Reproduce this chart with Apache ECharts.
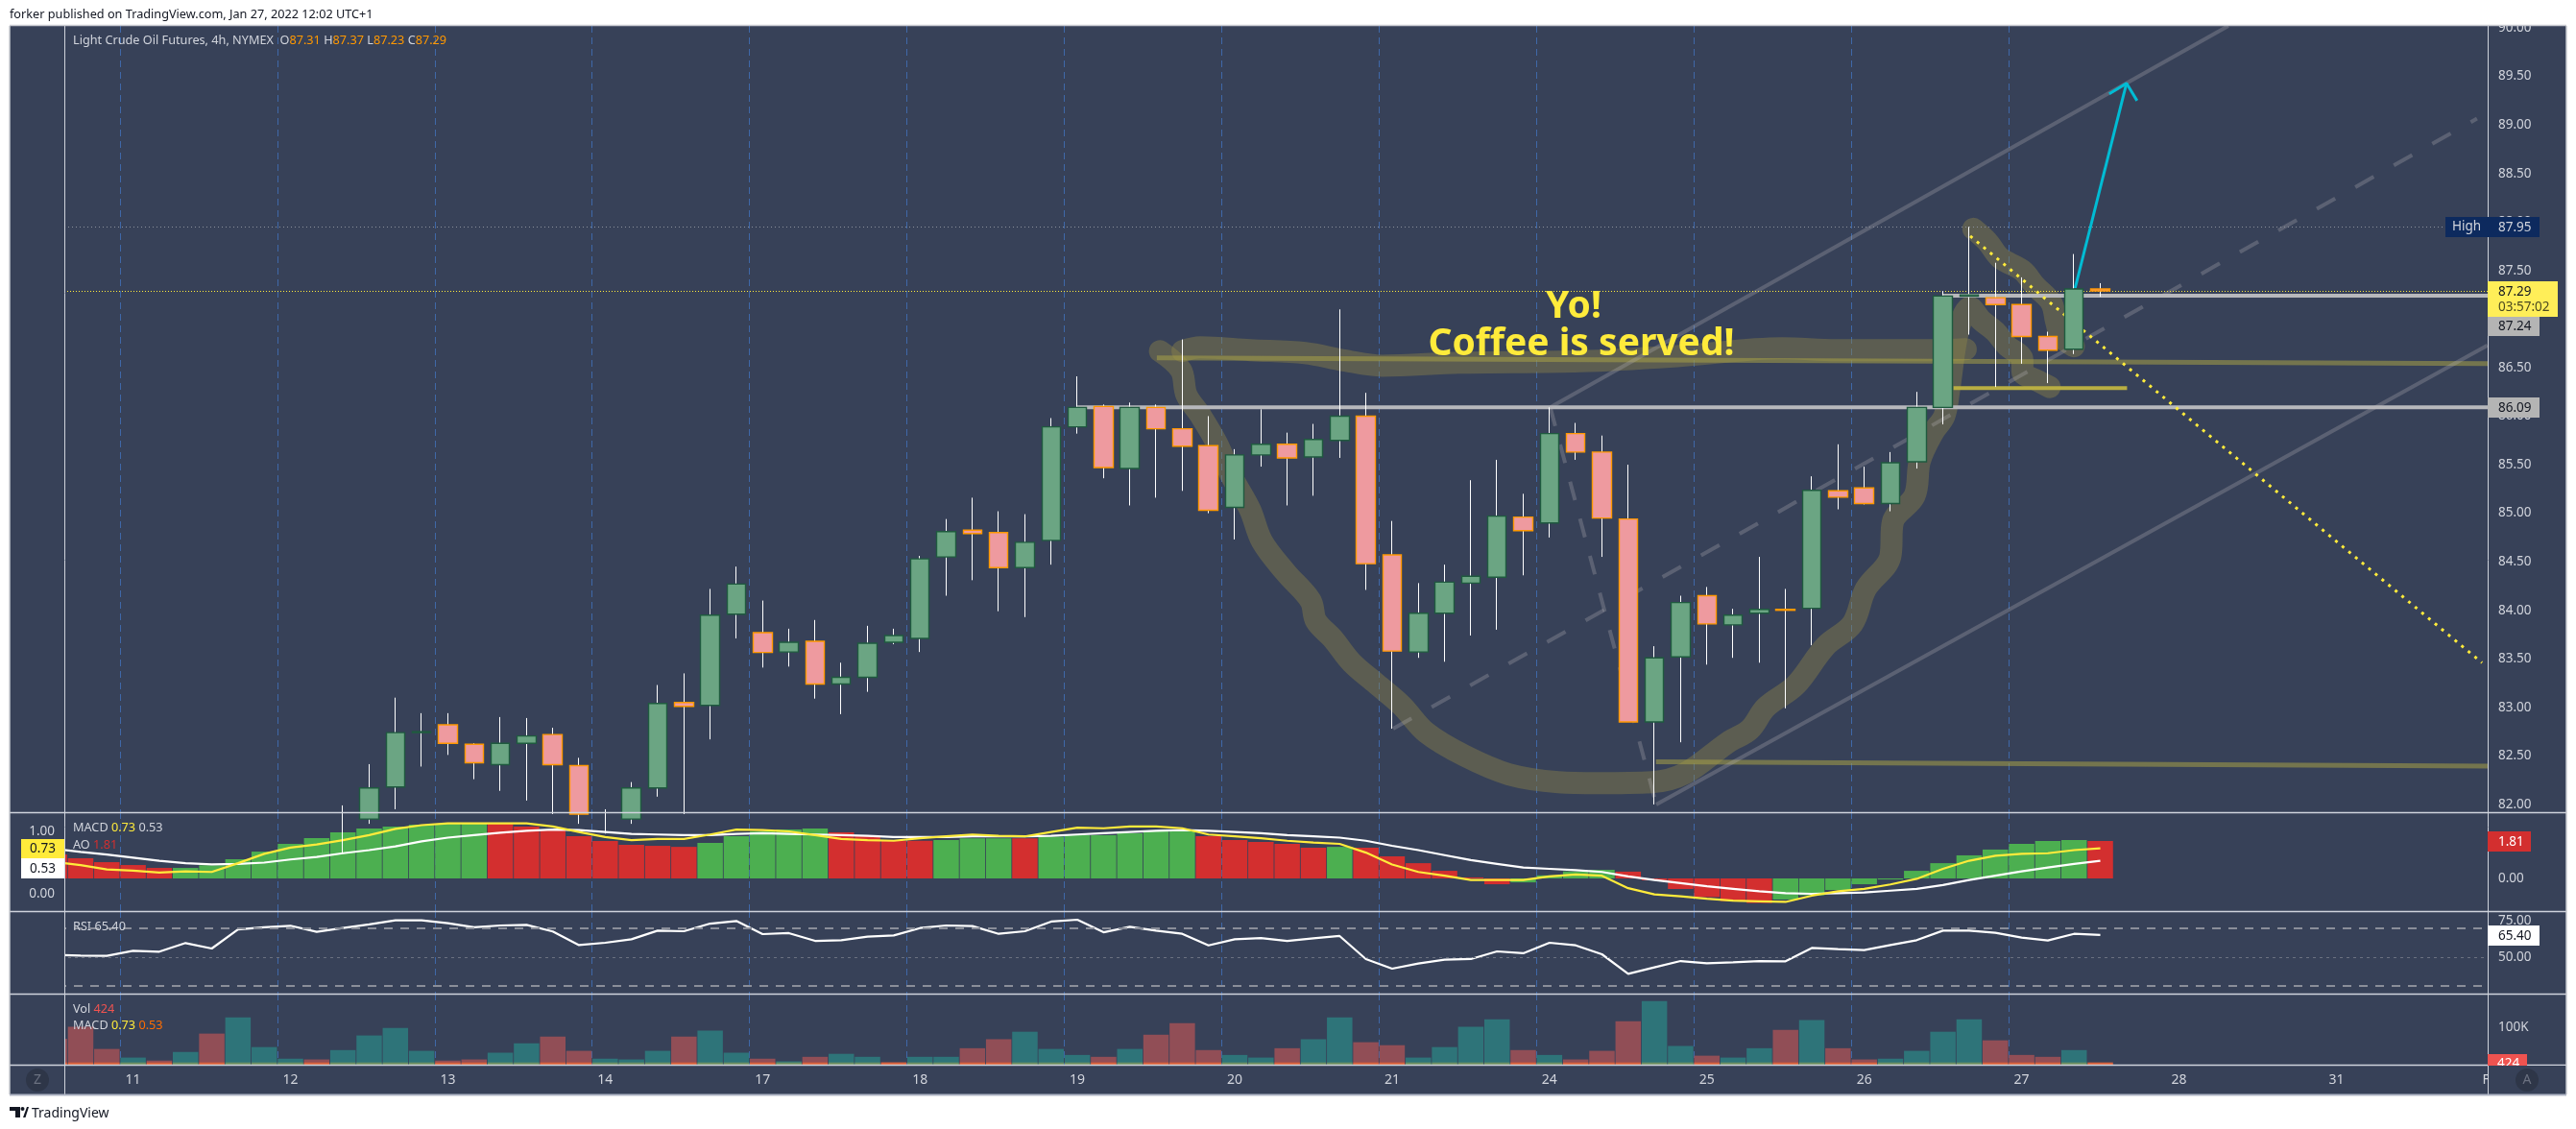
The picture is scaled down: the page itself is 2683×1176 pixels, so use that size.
<!DOCTYPE html>
<html><head><meta charset="utf-8"><title>Light Crude Oil Futures</title>
<style>html,body{margin:0;padding:0;background:#fff}#c{width:2683px;height:1176px}</style>
<script src="https://cdn.jsdelivr.net/npm/echarts@6/dist/echarts.min.js"></script>
</head><body><div id="c"></div>
<script>
// bar slots: 94 four-hour slots, the first three lie behind the left scale
const dayTicks=[3,9,15,21,27,33,39,45,51,57,63,69,75,81,87,93];
const dayNames=['11','12','13','14','17','18','19','20','21','24','25','26','27','28','31','Feb'];
const priceTicks=[82,82.5,83,83.5,84,84.5,85,85.5,86,86.5,87,87.5,88,88.5,89,89.5,90];
const N=null;
const opens=[N,N,N,N,N,N,N,N,N,N,N,81.8,81.85,82.18,82.74,82.82,82.62,82.41,82.63,82.72,82.40,81.85,81.85,82.17,83.05,83.02,83.96,83.77,83.57,83.68,83.24,83.31,83.67,83.71,84.55,84.825,84.80,84.44,84.72,85.89,86.10,85.46,86.09,85.87,85.695,85.06,85.60,85.71,85.58,85.75,86.0,84.57,83.57,83.97,84.28,84.34,84.96,84.90,85.82,85.63,84.94,82.85,83.52,84.15,83.85,83.97,84.01,84.02,85.23,85.26,85.10,85.53,86.09,87.235,87.22,87.15,86.82,86.69,87.31];
const closes=[N,N,N,N,N,N,N,N,N,N,N,81.6,82.17,82.74,82.75,82.63,82.43,82.63,82.705,82.41,81.9,81.8,82.17,83.04,83.01,83.95,84.27,83.565,83.67,83.24,83.31,83.66,83.74,84.53,84.81,84.79,84.44,84.70,85.89,86.09,85.47,86.09,85.87,85.69,85.03,85.60,85.71,85.57,85.76,86.0,84.48,83.58,83.97,84.29,84.35,84.97,84.82,85.82,85.63,84.95,82.85,83.51,84.08,83.86,83.95,84.01,84.0,85.235,85.165,85.10,85.52,86.09,87.237,87.25,87.15,86.82,86.68,87.31,87.29];
const lows=[N,N,N,N,N,N,N,N,N,N,N,81.5,81.8,81.95,82.39,82.51,82.26,82.14,82.04,81.9,81.8,81.7,81.8,82.08,81.9,82.67,83.71,83.41,83.42,83.09,82.93,83.16,83.65,83.57,84.15,84.31,83.99,83.93,84.47,85.82,85.36,85.08,85.16,85.23,85.0,84.73,85.48,85.08,85.18,85.57,84.21,82.78,83.51,83.47,83.74,83.80,84.36,84.75,85.55,84.55,82.85,82.0,82.64,83.44,83.51,83.46,82.99,83.64,85.04,85.09,85.02,85.46,85.915,86.84,86.30,86.54,86.34,86.64,87.23];
const highs=[N,N,N,N,N,N,N,N,N,N,N,81.99,82.415,83.10,82.94,82.94,82.63,82.90,82.89,82.79,82.48,81.95,82.23,83.23,83.35,84.22,84.45,84.10,83.81,83.90,83.46,83.84,83.81,84.56,84.94,85.16,85.02,84.99,85.98,86.41,86.12,86.14,86.12,86.79,86.0,85.66,86.07,85.83,85.92,87.10,86.24,84.92,84.28,84.47,85.34,85.55,85.20,86.09,85.93,85.80,85.50,83.63,84.15,84.24,84.015,84.55,84.22,85.38,85.71,85.48,85.63,86.25,87.29,87.95,87.58,87.43,86.87,87.67,87.37];
const aoValues=[1.16,.98,.79,.65,.51,.51,.64,.93,1.30,1.67,1.95,2.23,2.42,2.51,2.60,2.65,2.65,2.65,2.51,2.33,2.05,1.81,1.63,1.58,1.53,1.72,2.05,2.28,2.37,2.42,2.23,2.05,1.81,1.83,1.86,1.94,1.94,1.94,2.02,2.09,2.09,2.19,2.28,2.28,2.05,1.86,1.77,1.67,1.49,1.53,1.49,1.07,.74,.37,.05,-.28,-.19,.15,.34,.42,.33,-.09,-.51,-.90,-1.09,-1.19,-1.02,-.82,-.56,-.28,-.05,.37,.74,1.12,1.40,1.67,1.81,1.86,1.81];
const aoGreen=[0,0,0,0,0,1,1,1,1,1,1,1,1,1,1,1,1,0,0,0,0,0,0,0,0,1,1,1,1,1,0,0,0,0,1,1,1,0,1,1,1,1,1,1,0,0,0,0,0,1,0,0,0,0,0,0,1,1,1,1,0,0,0,0,0,0,1,1,1,1,1,1,1,1,1,1,1,1,0];
const macdLine=[.51,.46,.39,.37,.34,.36,.35,.49,.64,.74,.79,.86,.94,1.04,1.10,1.13,1.13,1.13,1.13,1.08,.99,.91,.86,.88,.88,.95,1.03,1.02,1.00,.94,.88,.86,.85,.89,.92,.95,.93,.92,.99,1.06,1.05,1.08,1.08,1.05,.95,.92,.89,.85,.82,.80,.66,.47,.35,.29,.22,.22,.22,.28,.31,.29,.09,-.01,-.04,-.08,-.11,-.12,-.13,-.03,.04,.08,.15,.24,.40,.53,.61,.64,.65,.70,.73];
const signalLine=[.72,.67,.63,.58,.53,.49,.47,.48,.50,.55,.59,.65,.70,.76,.84,.90,.94,.98,1.01,1.03,1.02,.99,.96,.95,.94,.94,.96,.97,.96,.95,.94,.93,.91,.91,.91,.92,.92,.92,.93,.95,.97,.99,1.01,1.02,1.01,.99,.97,.94,.92,.90,.85,.77,.70,.62,.54,.48,.42,.40,.38,.35,.28,.22,.17,.12,.08,.04,.01,0,.01,.02,.05,.08,.14,.22,.29,.36,.42,.48,.53];
const rsiValues=[51.6,51.1,50.9,54.4,53.8,59.8,56.0,69.3,70.7,71.8,67.6,70.2,72.7,75.6,75.6,73.6,70.7,72.0,72.4,67.8,58.4,60.0,62.4,68.4,68.0,73.3,75.1,66.0,66.7,61.3,61.8,64.2,65.1,70.2,72.0,71.6,66.2,68.0,74.7,76.0,67.3,71.1,68.4,66.2,58.2,62.4,63.3,61.3,63.1,64.7,48.7,42.0,45.6,48.2,48.7,54.0,52.7,60.0,58.2,52.0,38.4,42.9,47.3,45.8,46.4,47.3,47.1,56.4,55.6,54.9,58.4,61.8,68.4,68.4,66.9,63.6,61.6,66.2,65.4];
const rsiBands=[70,50,30];
const volumes=[69000,101000,42000,19000,11000,34000,83000,126000,47000,16000,14000,39000,78000,98000,37000,11000,14000,32000,57000,75000,37000,16000,14000,37000,75000,91000,32000,16000,9000,21000,29000,21000,6000,21000,21000,44000,68000,88000,42000,26000,21000,42000,80000,111000,39000,26000,19000,44000,68000,126000,60000,52000,19000,47000,101000,121000,39000,26000,14000,37000,116000,170000,50000,24000,19000,44000,93000,119000,44000,14000,16000,37000,88000,121000,65000,26000,21000,39000,424];
const volUp=[0,0,0,1,0,1,0,1,1,1,0,1,1,1,1,0,0,1,1,0,0,1,1,1,0,1,1,0,1,0,1,1,0,1,1,0,0,1,1,1,0,1,0,0,0,1,1,0,1,1,0,0,1,1,1,1,0,1,0,0,0,1,1,0,1,1,0,1,0,0,1,1,1,1,0,0,0,1,0];
const volMacd=[6000,6000,6000,6000,6000,6000,6000,6000,6000,6000,6000,6000,6000,6000,6000,6000,6000,6000,6000,6000,6000,6000,6000,6000,6000,6000,6000,6000,6000,6000,6000,6000,6000,6000,6000,6000,6000,6000,6000,6000,6000,6000,6000,6000,6000,6000,6000,6000,6000,6000,6000,6000,6000,6000,6000,6000,6000,6000,6000,6000,6000,6000,6000,6000,6000,6000,6000,6000,6000,6000,6000,6000,6000,6000,6000,6000,6000,6000,6000];
// hand drawings in [slot position, price]
const brushCup=[[42.65,86.67],[43.45,86.475],[43.66,86.22],[44.19,86.01],[44.82,85.72],[45.34,85.40],[46.08,85.04],[46.54,84.71],[47.44,84.39],[48.39,84.10],[48.6,83.89],[49.23,83.71],[49.96,83.46],[50.91,83.24],[51.86,83.02],[52.8,82.74],[54.27,82.50],[55.95,82.31],[57.84,82.23],[59.31,82.22],[61.41,82.23],[62.67,82.32],[64.31,82.64],[65.13,82.77],[65.75,83.0],[66.89,83.23],[68.02,83.63],[69.05,83.86],[69.56,84.22],[70.49,84.55],[70.59,84.91],[71.42,85.18],[71.62,85.54],[72.14,85.84],[72.55,86.0],[72.73,86.26],[73.09,86.89],[73.53,87.12],[73.95,86.99],[74.5,86.87],[74.92,86.73],[75.53,86.58],[75.53,86.46],[76.14,86.36],[76.57,86.30]];
const brushRim=[[43.51,86.67],[44.19,86.71],[46.08,86.68],[48.18,86.65],[49.65,86.575],[51.12,86.52],[54.06,86.55],[58.68,86.565],[62.46,86.62],[66.37,86.70],[68.43,86.68],[72.14,86.68],[73.37,86.69]];
const brushHandle=[[73.66,87.93],[74.19,87.80],[74.68,87.63],[75.53,87.50],[76.02,87.34],[76.63,87.17],[76.82,86.97],[77.0,86.82],[77.49,86.72]];
const supportLow=[[39.5,86.09],[93.3,86.09]];
const supportHigh=[[72.5,87.24],[93.3,87.24]];
const oliveUpper=[[42.53,86.60],[93.3,86.54]];
const oliveLower=[[61.56,82.44],[93.3,82.395]];
const oliveShort=[[72.9,86.29],[79.52,86.29]];
const forkUpper=[[57.53,86.09],[83.38,90.02]];
const forkMiddle=[[51.54,82.78],[92.86,89.065]];
const forkLower=[[61.57,82.0],[93.26,86.73]];
const forkHandle=[[57.53,86.09],[61.57,82.0]];
const downTrend=[[73.54,87.855],[93.05,83.46]];
const arrowShaft=[[77.54,87.32],[79.5,89.43]];
const arrowHead=[[78.84,89.32],[79.5,89.43],[79.9,89.25]];

const slots=Array.from({length:94},(_,i)=>String(i));
const font='"Noto Sans"', fg='#d1d4dc', bg='#374158';
const candleRaw=opens.map((o,i)=>o==null?['-','-','-','-']:[o,closes[i],lows[i],highs[i]]);
const candleBody=opens.map((o,i)=>o==null?['-','-','-','-']:[o,closes[i],Math.min(o,closes[i]),Math.max(o,closes[i])]);

const grids=[{left:43,width:2568,top:27,height:819},{left:43,width:2568,top:846,height:103},{left:43,width:2568,top:949,height:86},{left:43,width:2568,top:1035,height:74}];
const dayLineSlots=dayTicks.slice(0,13);
const catAxis=(g,labels)=>({type:'category',gridIndex:g,data:slots,boundaryGap:true,axisLine:{show:false},axisTick:{show:false},
  splitLine:{show:true,interval:(i)=>dayLineSlots.includes(i),lineStyle:{color:'#3f68a8',type:[7,5],width:1}},
  axisLabel:labels?{show:true,interval:(i)=>dayTicks.includes(i),formatter:(v,i)=>dayNames[dayTicks.indexOf(+v)]||'',color:fg,fontFamily:font,fontSize:14,margin:9}:{show:false}});
const valAxis=(g,pos,off,min,max,ticks,fmt,margin)=>({type:'value',gridIndex:g,position:pos,offset:off,min,max,z:60,scale:true,splitLine:{show:false},axisLine:{show:false},axisTick:{show:false},
  axisLabel:{show:ticks.length>0,customValues:ticks,formatter:fmt,color:fg,fontFamily:font,fontSize:13.5,margin:margin||11}});
const f2=v=>(+v).toFixed(2);

const draw=(name,data,color,width,z,extra)=>Object.assign({type:'line',name,xAxisIndex:4,yAxisIndex:0,data,showSymbol:false,symbol:'none',silent:true,z,
  lineStyle:Object.assign({color,width},extra||{})},{});
const brush=(name,data)=>Object.assign(draw(name,data,'rgba(142,134,72,.42)',23,2,{cap:'round',join:'round'}),{smooth:0.35});
const greyC='rgba(185,183,185,.28)';

const series=[
 brush('brushCup',brushCup),brush('brushRim',brushRim),brush('brushHandle',brushHandle),
 draw('oliveUpper',oliveUpper,'rgba(168,160,71,.55)',5,3),
 draw('oliveLower',oliveLower,'rgba(168,160,71,.55)',5,3),
 draw('oliveShort',oliveShort,'#b9ae42',4,3),
 draw('supportLow',supportLow,'#b7b8bc',4,3),
 draw('supportHigh',supportHigh,'#b7b8bc',4,3),
 draw('forkUpper',forkUpper,greyC,4,3),
 draw('forkMiddle',forkMiddle,greyC,4,3,{type:[22,24]}),
 draw('forkLower',forkLower,greyC,4,3),
 draw('forkHandle',forkHandle,greyC,4,3,{type:[20,20]}),
 draw('downTrend',downTrend,'#ffeb3b',3,3,{type:[3,6]}),
 draw('arrowShaft',arrowShaft,'#00bcd4',3,4),
 draw('arrowHead',arrowHead,'#00bcd4',3,4),
 {type:'candlestick',name:'wicks',xAxisIndex:0,yAxisIndex:0,data:candleRaw,barWidth:1,z:5,silent:true,clip:true,
  itemStyle:{color:'#fff',color0:'#fff',borderColor:'#fff',borderColor0:'#fff',borderWidth:1},
  markLine:{silent:true,symbol:'none',animation:false,label:{show:false},data:[
    {yAxis:87.95,lineStyle:{color:'#8b909c',type:[1,3],width:1}},
    {yAxis:87.29,lineStyle:{color:'#ffeb3b',type:[1,2],width:1}}]}},
 {type:'candlestick',name:'bodies',xAxisIndex:0,yAxisIndex:0,data:candleBody,barWidth:20,z:6,silent:true,clip:true,
  itemStyle:{color:'#6ba583',color0:'#ee9a9f',borderColor:'#1f5a3f',borderColor0:'#ff9800',borderWidth:1.4}},
 {type:'bar',name:'AO',xAxisIndex:1,yAxisIndex:2,barCategoryGap:'3%',silent:true,z:2,
  data:aoValues.map((v,i)=>({value:v,itemStyle:{color:aoGreen[i]?'#4caf50':'#d32f2f'}}))},
 {type:'line',name:'Signal',xAxisIndex:1,yAxisIndex:1,data:signalLine,showSymbol:false,silent:true,z:3,lineStyle:{color:'#ffffff',width:2.2}},
 {type:'line',name:'MACD',xAxisIndex:1,yAxisIndex:1,data:macdLine,showSymbol:false,silent:true,z:4,lineStyle:{color:'#ffeb3b',width:2.2}},
 {type:'line',name:'RSI',xAxisIndex:2,yAxisIndex:3,data:rsiValues,showSymbol:false,silent:true,z:4,lineStyle:{color:'#ffffff',width:2.2},
  markLine:{silent:true,symbol:'none',animation:false,label:{show:false},data:[
    {yAxis:rsiBands[0],lineStyle:{color:'#8a8e99',type:[9,8],width:2}},
    {yAxis:rsiBands[1],lineStyle:{color:'#6b7180',type:[3,4],width:1}},
    {yAxis:rsiBands[2],lineStyle:{color:'#8a8e99',type:[9,8],width:2}}]}},
 {type:'bar',name:'Vol',xAxisIndex:3,yAxisIndex:4,barCategoryGap:'3%',barGap:'-100%',silent:true,z:2,
  data:volumes.map((v,i)=>({value:v,itemStyle:{color:volUp[i]?'#2e7479':'#914e56'}}))},
 {type:'bar',name:'VolMACD',xAxisIndex:3,yAxisIndex:4,barCategoryGap:'3%',barGap:'-100%',silent:true,z:3,
  data:volMacd.map((v,i)=>({value:v,itemStyle:{color:volUp[i]?'#6e8f62':'#d9603a'}}))}
];

// page furniture
const rect=(x,y,w,h,fill,z)=>({type:'rect',shape:{x,y,width:w,height:h},style:{fill},z,silent:true});
const hl=(x1,x2,y,c,z,w)=>({type:'line',shape:{x1,y1:y,x2,y2:y},style:{stroke:c,lineWidth:w||1.5},z,silent:true});
const vl=(x,y1,y2,c,z,w)=>({type:'line',shape:{x1:x,y1,x2:x,y2},style:{stroke:c,lineWidth:w||1},z,silent:true});
const txt=(x,y,t,c,o)=>({type:'text',x,y,z:(o&&o.z)||90,silent:true,style:Object.assign({text:t,fill:c,font:`${(o&&o.w)||400} ${(o&&o.s)||13.5}px ${font}`,verticalAlign:'middle',align:(o&&o.a)||'left'},(o&&o.st)||{})});
const rich=(x,y,t,r,s)=>({type:'text',x,y,z:90,silent:true,style:{text:t,fill:fg,font:`400 ${s||12.7}px ${font}`,verticalAlign:'middle',rich:r}});
const leg=(c)=>({fill:c,fontFamily:font,fontSize:12.7});

const graphic=[
 rect(10,27,2663,1114,bg,-1),
 // masks beside the scales
 rect(10,27,57,1113,bg,50),
 rect(2591,27,82,1113,bg,50),
 rect(0,0,2683,26,'#ffffff',80),
 hl(10,2673,26.5,'#c9cbd1',81,1.5),
 vl(10,27,1140,'#c9cbd1',81,1.5),
 vl(2673,27,1140,'#c9cbd1',81,1.5),
 hl(10,2673,1140.5,'#b0b6c6',81,2),
 hl(10,2673,846.5,'#cfd3dc',66), hl(10,2673,949.5,'#cfd3dc',66), hl(10,2673,1035.5,'#cfd3dc',66), hl(10,2673,1109.5,'#cfd3dc',66),
 vl(67.5,27,1140,'#cfd3dc',66), vl(2591.5,27,1140,'#cfd3dc',66),
 txt(10,15,'forker published on TradingView.com, Jan 27, 2022 12:02 UTC+1','#131722',{s:12.7,z:90}),
 rich(76,42,'Light Crude Oil Futures, 4h, NYMEX  O{o|87.31} H{o|87.37} L{o|87.23} C{o|87.29}',{o:leg('#ff9800')}),
 rich(76,862.5,'MACD {y|0.73} 0.53',{y:leg('#ffeb3b')}),
 rich(76,880,'AO {r|1.81}',{r:leg('#d32f2f')}),
 rich(76,965.5,'RSI 65.40',{}),
 rich(76,1051,'Vol {r|424}',{r:leg('#ef5350')}),
 rich(76,1068.5,'MACD {y|0.73} {o|0.53}',{y:leg('#ffeb3b'),o:leg('#ff6d00')}),
 txt(1639,320,'Yo!','#ffeb3b',{s:39,w:700,a:'center'}),
 txt(1647,359,'Coffee is served!','#ffeb3b',{s:39,w:700,a:'center'}),
 // left scale tags
 rect(22,874,45,20,'#ffeb3b',70), txt(44.5,884.5,'0.73','#131722',{a:'center'}),
 rect(22,894,45,21,'#ffffff',70), txt(44.5,905,'0.53','#131722',{a:'center'}),
 // right scale tags
 rect(2547,226,44,21,'#0d2a5e',70), txt(2569,236,'High',fg,{a:'center'}),
 rect(2591,226,54,21,'#0d2a5e',70), txt(2602,237,'87.95',fg),
 rect(2591,293,73,37,'#ffee58',70), txt(2602,304,'87.29','#131722'), txt(2602,320,'03:57:02','#4a4a20'),
 rect(2591,330,54,20,'#b4b4b4',70), txt(2602,340,'87.24','#131722'),
 rect(2591,414,54,21,'#b4b4b4',70), txt(2602,425,'86.09','#131722'),
 rect(2591,866,45,21,'#d32f2f',70), txt(2602,877,'1.81','#ffffff'),
 rect(2591,964,54,21,'#ffffff',70), txt(2602,975,'65.40','#131722'),
 rect(2591,1098,41,12,'#ef5350',70), txt(2601,1108,'424','#ffffff',{z:71}),
 rect(2592,1110,80,30,bg,72),
 // zoom and auto buttons
 {type:'circle',shape:{cx:39,cy:1125,r:12},style:{fill:'#2e3648'},z:73,silent:true}, txt(39,1125,'Z','#6b7180',{a:'center',s:14}),
 {type:'circle',shape:{cx:2632,cy:1125,r:12},style:{fill:'#2e3648'},z:73,silent:true}, txt(2632,1125,'A','#6b7180',{a:'center',s:14}),
 // TradingView mark
 {type:'polygon',shape:{points:[[10,1153],[21,1153],[21,1164],[16,1164],[16,1157],[10,1157]]},style:{fill:'#131722'},z:90,silent:true},
 {type:'circle',shape:{cx:23.5,cy:1155,r:2},style:{fill:'#131722'},z:90,silent:true},
 {type:'polygon',shape:{points:[[24,1164],[28,1153],[30,1153],[26.5,1164]]},style:{fill:'#131722'},z:90,silent:true},
 txt(33,1160,'TradingView','#131722',{s:14})
];

const chart=echarts.init(document.getElementById('c'),null,{renderer:'canvas',width:2683,height:1176});
chart.setOption({
 animation:false,backgroundColor:'#ffffff',grid:grids,
 xAxis:[catAxis(0,false),catAxis(1,false),catAxis(2,false),catAxis(3,true),
  {type:'value',gridIndex:0,min:0,max:94,show:false}],
 yAxis:[
  valAxis(0,'right',-20,81.92,90.02,priceTicks,f2),
  valAxis(1,'left',-24,-0.277,1.308,[0,1],f2,10),
  valAxis(1,'right',-20,-1.58,3.21,[0],f2),
  valAxis(2,'right',-20,24.67,82,[50,75],f2),
  valAxis(3,'right',-20,0,189700,[100000],v=>(v/1000)+'K')
 ],
 series,graphic
});
</script></body></html>
